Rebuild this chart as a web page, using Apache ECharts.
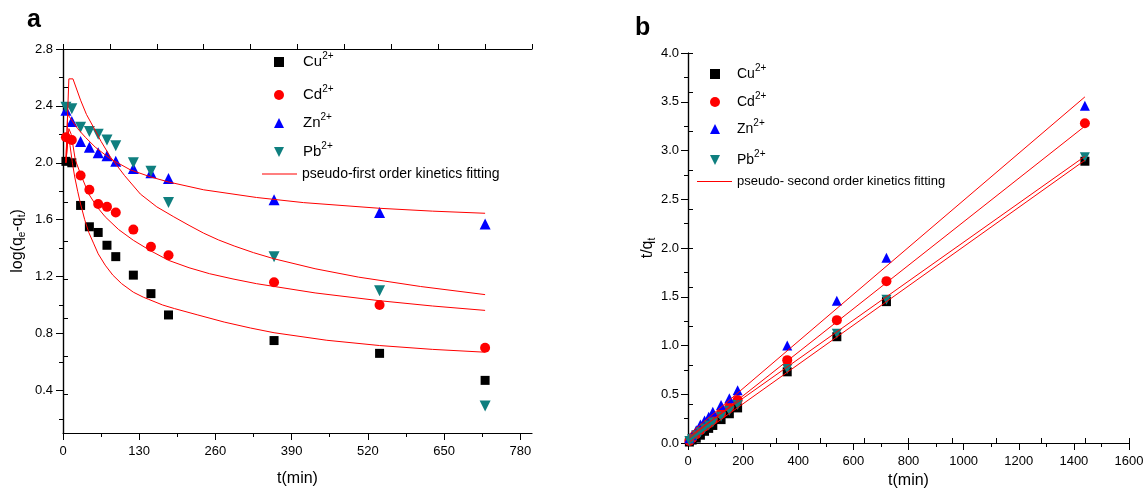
<!DOCTYPE html>
<html>
<head>
<meta charset="utf-8">
<script src="https://cdn.jsdelivr.net/npm/echarts@6/dist/echarts.min.js"></script>
<style>
html, body { margin: 0; padding: 0; background: #fff; }
#main { width: 1143px; height: 490px; }
</style>
</head>
<body>
<div id="main"></div>
<script>
// ---- panel a : log(qe-qt) vs t ----
var tA = [5, 15, 30, 45, 60, 75, 90, 120, 150, 180, 360, 540, 720];
var cuA = [2.01, 2.00, 1.70, 1.55, 1.51, 1.42, 1.34, 1.21, 1.08, 0.93, 0.75, 0.66, 0.47];
var cdA = [2.18, 2.16, 1.91, 1.81, 1.71, 1.69, 1.65, 1.53, 1.41, 1.35, 1.16, 1.00, 0.70];
var znA = [2.37, 2.29, 2.15, 2.11, 2.07, 2.05, 2.01, 1.96, 1.93, 1.89, 1.74, 1.65, 1.57];
var pbA = [2.39, 2.38, 2.25, 2.22, 2.20, 2.16, 2.12, 2.00, 1.94, 1.72, 1.34, 1.10, 0.29];

// fitted curves as [t, value]
var fitCuA = [[5, 2.0], [9, 2.22], [12, 2.12], [16, 2.0], [20, 1.90], [25, 1.80], [30, 1.71], [37, 1.60], [44, 1.51], [52, 1.435], [60, 1.36], [72, 1.28], [85, 1.21], [100, 1.15], [120, 1.09], [137, 1.055], [146, 1.04], [170, 1.0], [190, 0.975], [230, 0.93], [275, 0.88], [320, 0.838], [360, 0.805], [450, 0.752], [540, 0.715], [630, 0.688], [720, 0.668]];
var fitCdA = [[5, 2.0], [10, 2.24], [14, 2.2], [21, 2.02], [30, 1.92], [44, 1.78], [58, 1.69], [72, 1.62], [95, 1.53], [120, 1.455], [150, 1.38], [180, 1.314], [215, 1.262], [250, 1.22], [290, 1.183], [330, 1.15], [430, 1.085], [540, 1.03], [630, 0.993], [720, 0.962]];
var fitZnA = [[5, 2.0], [8, 2.34], [15, 2.30], [25, 2.24], [38, 2.18], [55, 2.11], [80, 2.03], [115, 1.95], [150, 1.90], [180, 1.865], [240, 1.81], [330, 1.756], [410, 1.72], [540, 1.68], [630, 1.66], [720, 1.645]];
var fitPbA = [[5, 2.02], [10, 2.59], [17, 2.59], [30, 2.44], [40, 2.34], [52, 2.25], [65, 2.15], [81, 2.04], [105, 1.91], [132, 1.78], [160, 1.69], [189, 1.62], [215, 1.56], [240, 1.505], [265, 1.458], [292, 1.415], [325, 1.368], [360, 1.325], [430, 1.255], [504, 1.196], [610, 1.13], [720, 1.073]];

var xTicksA = [0, 130, 260, 390, 520, 650, 780];
var xMinorA = [65, 195, 325, 455, 585, 715];
var yTicksA = [0.4, 0.8, 1.2, 1.6, 2.0, 2.4, 2.8];
var yMinorA = [0.2, 0.6, 1.0, 1.4, 1.8, 2.2, 2.6];

// ---- panel b : t/qt vs t ----
var tB = [5, 15, 30, 45, 60, 75, 90, 120, 150, 180, 360, 540, 720, 1440];
var cuB = [0.01, 0.03, 0.05, 0.08, 0.12, 0.15, 0.18, 0.24, 0.30, 0.36, 0.73, 1.09, 1.45, 2.89];
var cdB = [0.02, 0.05, 0.09, 0.13, 0.17, 0.20, 0.24, 0.30, 0.37, 0.44, 0.85, 1.26, 1.66, 3.28];
var znB = [0.05, 0.08, 0.13, 0.19, 0.23, 0.27, 0.32, 0.39, 0.46, 0.54, 1.00, 1.46, 1.90, 3.46];
var pbB = [0.02, 0.04, 0.08, 0.11, 0.15, 0.18, 0.21, 0.27, 0.33, 0.39, 0.76, 1.12, 1.47, 2.93];

var fitCuB = [[5, 0.01], [1440, 2.90]];
var fitCdB = [[5, 0.05], [1440, 3.25]];
var fitZnB = [[5, 0.09], [1440, 3.55]];
var fitPbB = [[5, 0.07], [1440, 2.94]];

var FONT = '"Liberation Sans", Arial, sans-serif';
var FIT_A = 'pseudo-first order kinetics fitting';
var FIT_B = 'pseudo- second order kinetics fitting';

// 图例里的上标
var richNames = {
    'Cu2+': '{n|Cu}{s|2+}',
    'Cd2+': '{n|Cd}{s|2+}',
    'Zn2+': '{n|Zn}{s|2+}',
    'Pb2+': '{n|Pb}{s|2+}'
};
var legendIcons = {
    'Cu2+': 'rect',
    'Cd2+': 'circle',
    'Zn2+': 'triangle',
    'Pb2+': 'path://M0,0 L10,0 L5,10 Z'
};

function pairs(xs, ys) {
    return xs.map(function (x, i) { return [x, ys[i]]; });
}

function scatter(name, data, xi, symbol, color, size, rotate) {
    return {
        name: name, type: 'scatter', xAxisIndex: xi, yAxisIndex: xi,
        data: data, symbol: symbol, symbolSize: size, symbolRotate: rotate || 0,
        itemStyle: {color: color, opacity: 1}
    };
}

function fit(name, data, xi) {
    return {
        name: name, type: 'line', xAxisIndex: xi, yAxisIndex: xi,
        data: data, symbol: 'none', smooth: false,
        lineStyle: {color: '#ff0000', width: 1}, itemStyle: {color: '#ff0000'}
    };
}

// 单个图例项：符号图例宽10，线图例宽35
function legendAt(name, left, top, size, textShift) {
    var isLine = !legendIcons[name];
    return {
        data: [{name: name, icon: isLine ? 'rect' : legendIcons[name]}],
        left: left, top: top, padding: 0,
        itemWidth: isLine ? 35 : 10, itemHeight: isLine ? 1 : 10,
        selectedMode: false,
        formatter: function (n) { return richNames[n] || n; },
        textStyle: {
            color: '#000', fontSize: size, fontFamily: FONT,
            rich: {
                n: {fontSize: size + 1, fontFamily: FONT, color: '#000', padding: [0, 0, 0, textShift]},
                s: {fontSize: 10, fontFamily: FONT, color: '#000', padding: [0, 0, 12, 0]}
            }
        }
    };
}

function frameAxis(gridIndex, pos) {
    return {
        gridIndex: gridIndex, type: 'value', position: pos, min: 0, max: 10, interval: 1,
        axisLine: {show: true, lineStyle: {color: '#000', width: 1.2}},
        axisTick: {show: true, length: 5, lineStyle: {color: '#000'}},
        axisLabel: {show: false}, splitLine: {show: false}
    };
}

var labelStyle = {color: '#000', fontSize: 13, fontFamily: FONT};

var option = {
    backgroundColor: '#fff',
    animation: false,
    title: [
        {text: 'a', left: 22, top: 3, textStyle: {fontSize: 25, fontWeight: 'bold', color: '#000', fontFamily: FONT}},
        {text: 'b', left: 630, top: 11, textStyle: {fontSize: 25, fontWeight: 'bold', color: '#000', fontFamily: FONT}}
    ],
    grid: [
        {left: 63, right: 611, top: 49, bottom: 57, outerBoundsMode: 'none', containLabel: false},
        {left: 688, right: 14, top: 53, bottom: 47, outerBoundsMode: 'none', containLabel: false}
    ],
    legend: [
        legendAt('Cu2+', 274, 51, 14, 14),
        legendAt('Cd2+', 274, 84, 14, 14),
        legendAt('Zn2+', 274, 112, 14, 14),
        legendAt('Pb2+', 274, 141, 14, 14),
        legendAt(FIT_A, 262, 167, 14, 0),
        legendAt('Cu2+', 710, 63, 13, 12),
        legendAt('Cd2+', 710, 91, 13, 12),
        legendAt('Zn2+', 710, 118, 13, 12),
        legendAt('Pb2+', 710, 149, 13, 12),
        legendAt(FIT_B, 697, 175, 13, 0)
    ],
    xAxis: [
        {
            gridIndex: 0, type: 'value', position: 'bottom', min: 0, max: 800,
            axisLine: {lineStyle: {color: '#000', width: 1.2}},
            axisTick: {customValues: xTicksA, length: 7, lineStyle: {color: '#000'}},
            axisLabel: Object.assign({customValues: xTicksA, margin: 12, formatter: function (v) { return String(v); }}, labelStyle),
            splitLine: {show: false},
            name: 't(min)', nameLocation: 'middle', nameGap: 38,
            nameTextStyle: {color: '#000', fontSize: 16, fontFamily: FONT}
        },
        {
            gridIndex: 0, type: 'value', position: 'bottom', min: 0, max: 800,
            axisLine: {show: false},
            axisTick: {customValues: xMinorA, length: 4, lineStyle: {color: '#000'}},
            axisLabel: {show: false, customValues: xMinorA}, splitLine: {show: false}
        },
        frameAxis(0, 'top'),
        {
            gridIndex: 1, type: 'value', position: 'bottom', min: 0, max: 1600, interval: 200,
            axisLine: {lineStyle: {color: '#000', width: 1.2}},
            axisTick: {length: 7, lineStyle: {color: '#000'}},
            minorTick: {show: true, splitNumber: 2, length: 4, lineStyle: {color: '#000'}},
            axisLabel: Object.assign({margin: 12, formatter: function (v) { return String(v); }}, labelStyle),
            splitLine: {show: false},
            name: 't(min)', nameLocation: 'middle', nameGap: 29,
            nameTextStyle: {color: '#000', fontSize: 16, fontFamily: FONT}
        },
        frameAxis(1, 'top')
    ],
    yAxis: [
        {
            gridIndex: 0, type: 'value', position: 'left', min: 0.1, max: 2.8,
            axisLine: {lineStyle: {color: '#000', width: 1.2}},
            axisTick: {customValues: yTicksA, length: 7, lineStyle: {color: '#000'}},
            axisLabel: Object.assign({customValues: yTicksA, margin: 10, formatter: function (v) { return v.toFixed(1); }}, labelStyle),
            splitLine: {show: false},
            name: 'log(q{sub|e}-q{sub|t})', nameLocation: 'middle', nameGap: 36,
            nameTextStyle: {
                color: '#000', fontSize: 16, fontFamily: FONT,
                rich: {sub: {fontSize: 10, fontFamily: FONT, color: '#000', padding: [9, 0, 0, 0]}}
            }
        },
        {
            gridIndex: 0, type: 'value', position: 'left', min: 0.1, max: 2.8,
            axisLine: {show: false},
            axisTick: {customValues: yMinorA, length: 4, lineStyle: {color: '#000'}},
            axisLabel: {show: false, customValues: yMinorA}, splitLine: {show: false}
        },
        frameAxis(0, 'right'),
        {
            gridIndex: 1, type: 'value', position: 'left', min: 0, max: 4, interval: 0.5,
            axisLine: {lineStyle: {color: '#000', width: 1.2}},
            axisTick: {length: 7, lineStyle: {color: '#000'}},
            minorTick: {show: true, splitNumber: 2, length: 4, lineStyle: {color: '#000'}},
            axisLabel: Object.assign({margin: 9, formatter: function (v) { return v.toFixed(1); }}, labelStyle),
            splitLine: {show: false},
            name: 't/q{sub|t}', nameLocation: 'middle', nameGap: 31,
            nameTextStyle: {
                color: '#000', fontSize: 16, fontFamily: FONT,
                rich: {sub: {fontSize: 10, fontFamily: FONT, color: '#000', padding: [9, 0, 0, 0]}}
            }
        },
        frameAxis(1, 'right')
    ],
    series: [
        scatter('Cu2+', pairs(tA, cuA), 0, 'rect', '#000000', 9),
        scatter('Cd2+', pairs(tA, cdA), 0, 'circle', '#ff0000', 10),
        scatter('Zn2+', pairs(tA, znA), 0, 'triangle', '#0000ff', 11),
        scatter('Pb2+', pairs(tA, pbA), 0, 'triangle', '#0f7f7f', 11, 180),
        fit(FIT_A, fitCuA, 0),
        fit(FIT_A, fitCdA, 0),
        fit(FIT_A, fitZnA, 0),
        fit(FIT_A, fitPbA, 0),
        scatter('Cu2+', pairs(tB, cuB), 3, 'rect', '#000000', 9),
        scatter('Cd2+', pairs(tB, cdB), 3, 'circle', '#ff0000', 10),
        scatter('Zn2+', pairs(tB, znB), 3, 'triangle', '#0000ff', 10),
        scatter('Pb2+', pairs(tB, pbB), 3, 'triangle', '#0f7f7f', 10, 180),
        fit(FIT_B, fitCuB, 3),
        fit(FIT_B, fitCdB, 3),
        fit(FIT_B, fitZnB, 3),
        fit(FIT_B, fitPbB, 3)
    ]
};

var chart = echarts.init(document.getElementById('main'));
chart.setOption(option);
</script>
</body>
</html>
